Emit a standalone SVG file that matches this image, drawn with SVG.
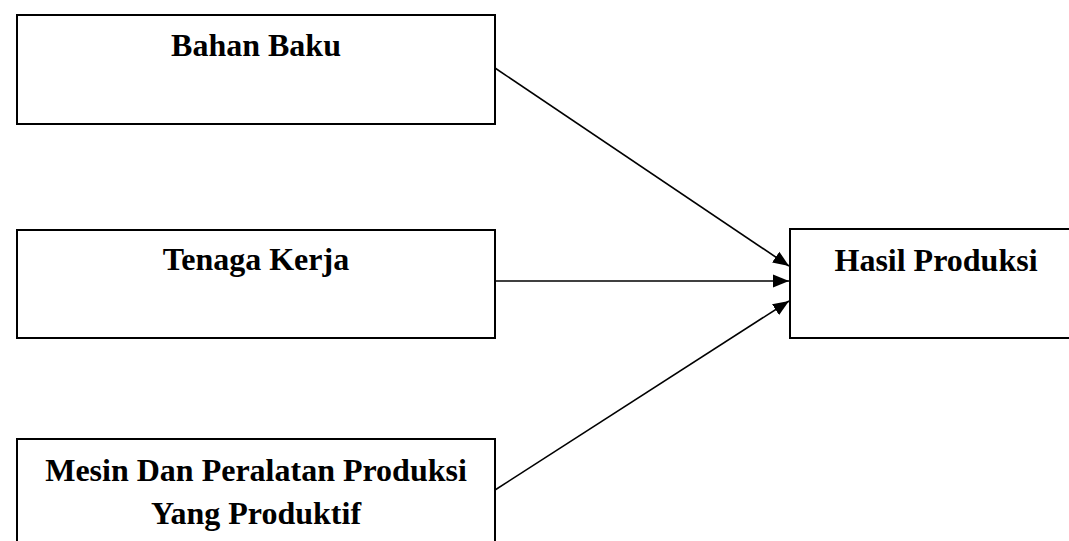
<svg xmlns="http://www.w3.org/2000/svg" width="1069" height="541" viewBox="0 0 1069 541">
<style>
.box{fill:#fff;stroke:#000;stroke-width:2}
.lbl{font-family:"Liberation Serif","Times New Roman",serif;font-weight:bold;font-size:32px;fill:#000;text-anchor:middle}
.conn{stroke:#000;stroke-width:1.6;fill:none}
</style>
<defs>
<marker id="arr" markerUnits="userSpaceOnUse" markerWidth="18" markerHeight="14" refX="16" refY="7" orient="auto">
<path d="M0,0.5 L16,7 L0,13.5 Z" fill="#000"/>
</marker>
</defs>
<rect width="1069" height="541" fill="#fff"/>
<g id="bahan-baku">
<rect class="box" x="17" y="15" width="478" height="109"/>
<text class="lbl" x="256" y="56">Bahan Baku</text>
</g>
<g id="tenaga-kerja">
<rect class="box" x="17" y="230" width="478" height="108"/>
<text class="lbl" x="256" y="270">Tenaga Kerja</text>
</g>
<g id="mesin">
<rect class="box" x="17" y="439" width="478" height="120"/>
<text class="lbl" x="256" y="481">Mesin Dan Peralatan Produksi</text>
<text class="lbl" x="256" y="524">Yang Produktif</text>
</g>
<g id="hasil-produksi">
<rect class="box" x="790" y="229" width="292" height="109"/>
<text class="lbl" x="936" y="271">Hasil Produksi</text>
</g>
<g id="connectors">
<line class="conn" x1="495" y1="68" x2="789" y2="266" marker-end="url(#arr)"/>
<line class="conn" x1="495" y1="281" x2="789" y2="281" marker-end="url(#arr)"/>
<line class="conn" x1="495" y1="490" x2="789" y2="301" marker-end="url(#arr)"/>
</g>
</svg>
